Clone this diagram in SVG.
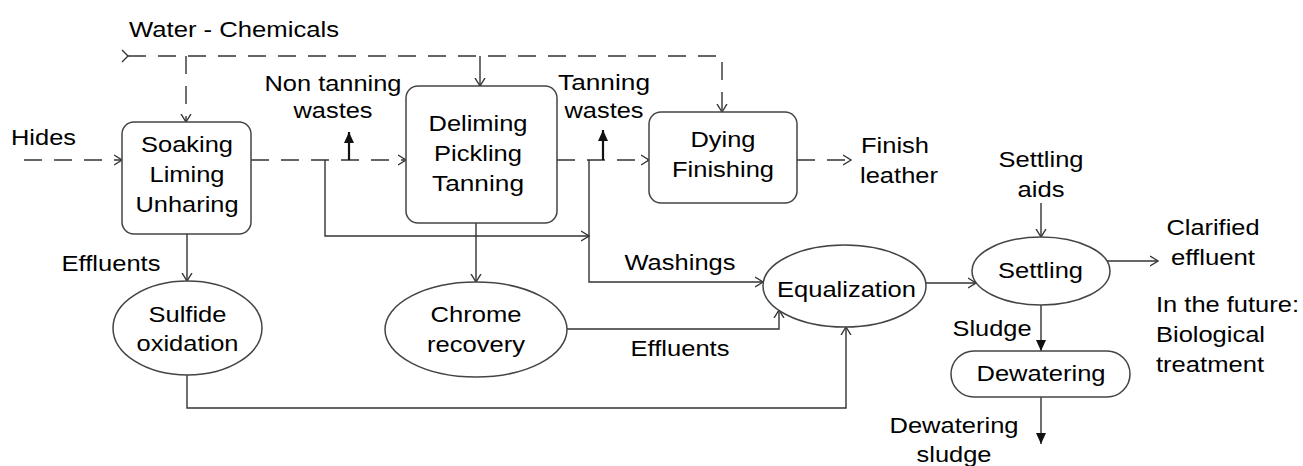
<svg xmlns="http://www.w3.org/2000/svg" width="1303" height="466" viewBox="0 0 1303 466">
<style>
.box{fill:#fff;stroke:#444;stroke-width:1.5}
.ln{fill:none;stroke:#333;stroke-width:1.4}
.dash{stroke-dasharray:18 12}
.bold{fill:none;stroke:#111;stroke-width:2.2}
.t{font-family:"Liberation Sans",Arial,Helvetica,sans-serif;font-size:22.5px;fill:#000;text-anchor:middle}
.s{text-anchor:start}
</style>
<defs>
<marker id="ao" markerUnits="userSpaceOnUse" markerWidth="10" markerHeight="12" refX="8" refY="6" orient="auto">
<path d="M0,1 L8,6 L0,11" fill="none" stroke="#333" stroke-width="1.4"/>
</marker>
<marker id="af" markerUnits="userSpaceOnUse" markerWidth="12" markerHeight="12" refX="11" refY="6" orient="auto">
<path d="M0,1 L11,6 L0,11 Z" fill="#111" stroke="none"/>
</marker>
</defs>

<g id="connectors">
<path class="ln" d="M122,50 L128,56 L122,62"/>
<path class="ln dash" d="M128,56 H722 V112" marker-end="url(#ao)"/>
<path class="ln dash" d="M186,56 V122" marker-end="url(#ao)"/>
<path class="ln" d="M480,56 V86" marker-end="url(#ao)"/>
<path class="ln dash" d="M24,160 H122" marker-end="url(#ao)"/>
<path class="ln dash" d="M251,160 H406" marker-end="url(#ao)"/>
<path class="ln dash" d="M557,160 H649" marker-end="url(#ao)"/>
<path class="ln dash" d="M797,160 H851" marker-end="url(#ao)"/>
<path class="ln" d="M325,160 V236 H589" marker-end="url(#ao)"/>
<path class="ln" d="M589,160 V282 H763" marker-end="url(#ao)"/>
<path class="ln" d="M476,223 V282" marker-end="url(#ao)"/>
<path class="ln" d="M187,234 V281" marker-end="url(#ao)"/>
<path class="ln" d="M187,375 V408 H846 V327" marker-end="url(#ao)"/>
<path class="ln" d="M567,329 H779 V310" marker-end="url(#ao)"/>
<path class="ln" d="M926,283 H976" marker-end="url(#ao)"/>
<path class="ln" d="M1041,203 V237" marker-end="url(#ao)"/>
<path class="ln" d="M1107,261 H1158" marker-end="url(#ao)"/>
<path class="bold" d="M349,160 V132" marker-end="url(#af)"/>
<path class="bold" d="M603,160 V130" marker-end="url(#af)"/>
<path class="ln" d="M1041,305 V351" marker-end="url(#af)"/>
<path class="ln" d="M1041,397 V444" marker-end="url(#af)"/>
</g>

<g id="soaking">
<rect class="box" x="122" y="122" width="129" height="112" rx="12"/>
<text class="t" x="187" y="152" textLength="92" lengthAdjust="spacingAndGlyphs">Soaking</text>
<text class="t" x="187" y="182" textLength="75" lengthAdjust="spacingAndGlyphs">Liming</text>
<text class="t" x="187" y="212" textLength="103" lengthAdjust="spacingAndGlyphs">Unharing</text>
</g>
<g id="deliming">
<rect class="box" x="406" y="86" width="151" height="137" rx="12"/>
<text class="t" x="478" y="131" textLength="99" lengthAdjust="spacingAndGlyphs">Deliming</text>
<text class="t" x="478" y="161" textLength="88" lengthAdjust="spacingAndGlyphs">Pickling</text>
<text class="t" x="478" y="191" textLength="92" lengthAdjust="spacingAndGlyphs">Tanning</text>
</g>
<g id="dying">
<rect class="box" x="649" y="112" width="148" height="91" rx="12"/>
<text class="t" x="723" y="147" textLength="65" lengthAdjust="spacingAndGlyphs">Dying</text>
<text class="t" x="723" y="177" textLength="102" lengthAdjust="spacingAndGlyphs">Finishing</text>
</g>
<g id="sulfide">
<ellipse class="box" cx="187.5" cy="328" rx="74.5" ry="47"/>
<text class="t" x="187.5" y="322" textLength="78" lengthAdjust="spacingAndGlyphs">Sulfide</text>
<text class="t" x="187.5" y="351" textLength="102" lengthAdjust="spacingAndGlyphs">oxidation</text>
</g>
<g id="chrome">
<ellipse class="box" cx="476" cy="329.5" rx="91" ry="47.5"/>
<text class="t" x="476" y="322" textLength="91" lengthAdjust="spacingAndGlyphs">Chrome</text>
<text class="t" x="476" y="352" textLength="98" lengthAdjust="spacingAndGlyphs">recovery</text>
</g>
<g id="equalization">
<ellipse class="box" cx="844.5" cy="286" rx="81.5" ry="41"/>
<text class="t" x="846.5" y="297" textLength="139" lengthAdjust="spacingAndGlyphs">Equalization</text>
</g>
<g id="settling">
<ellipse class="box" cx="1041" cy="271" rx="69" ry="34"/>
<text class="t" x="1040.5" y="278" textLength="85" lengthAdjust="spacingAndGlyphs">Settling</text>
</g>
<g id="dewatering">
<rect class="box" x="951" y="351" width="179" height="46" rx="23"/>
<text class="t" x="1041" y="381" textLength="129" lengthAdjust="spacingAndGlyphs">Dewatering</text>
</g>

<g id="labels">
<text class="t" x="234" y="37" textLength="210" lengthAdjust="spacingAndGlyphs">Water - Chemicals</text>
<text class="t" x="43.5" y="145" textLength="65" lengthAdjust="spacingAndGlyphs">Hides</text>
<text class="t" x="333" y="91" textLength="137" lengthAdjust="spacingAndGlyphs">Non tanning</text>
<text class="t" x="333" y="118" textLength="79" lengthAdjust="spacingAndGlyphs">wastes</text>
<text class="t" x="604" y="90" textLength="92" lengthAdjust="spacingAndGlyphs">Tanning</text>
<text class="t" x="604" y="118" textLength="79" lengthAdjust="spacingAndGlyphs">wastes</text>
<text class="t s" x="861" y="153" textLength="68" lengthAdjust="spacingAndGlyphs">Finish</text>
<text class="t s" x="860" y="183" textLength="78" lengthAdjust="spacingAndGlyphs">leather</text>
<text class="t" x="111" y="271" textLength="99" lengthAdjust="spacingAndGlyphs">Effluents</text>
<text class="t" x="680" y="270" textLength="111" lengthAdjust="spacingAndGlyphs">Washings</text>
<text class="t" x="680" y="356" textLength="99" lengthAdjust="spacingAndGlyphs">Effluents</text>
<text class="t" x="1041" y="167" textLength="85" lengthAdjust="spacingAndGlyphs">Settling</text>
<text class="t" x="1041" y="197" textLength="47" lengthAdjust="spacingAndGlyphs">aids</text>
<text class="t" x="1213" y="235" textLength="93" lengthAdjust="spacingAndGlyphs">Clarified</text>
<text class="t" x="1213" y="265" textLength="84" lengthAdjust="spacingAndGlyphs">effluent</text>
<text class="t s" x="1156" y="312" textLength="143" lengthAdjust="spacingAndGlyphs">In the future:</text>
<text class="t s" x="1156" y="342" textLength="109" lengthAdjust="spacingAndGlyphs">Biological</text>
<text class="t s" x="1156" y="372" textLength="108" lengthAdjust="spacingAndGlyphs">treatment</text>
<text class="t" x="992" y="336" textLength="79" lengthAdjust="spacingAndGlyphs">Sludge</text>
<text class="t" x="954" y="433" textLength="129" lengthAdjust="spacingAndGlyphs">Dewatering</text>
<text class="t" x="954" y="462" textLength="75" lengthAdjust="spacingAndGlyphs">sludge</text>
</g>
</svg>
